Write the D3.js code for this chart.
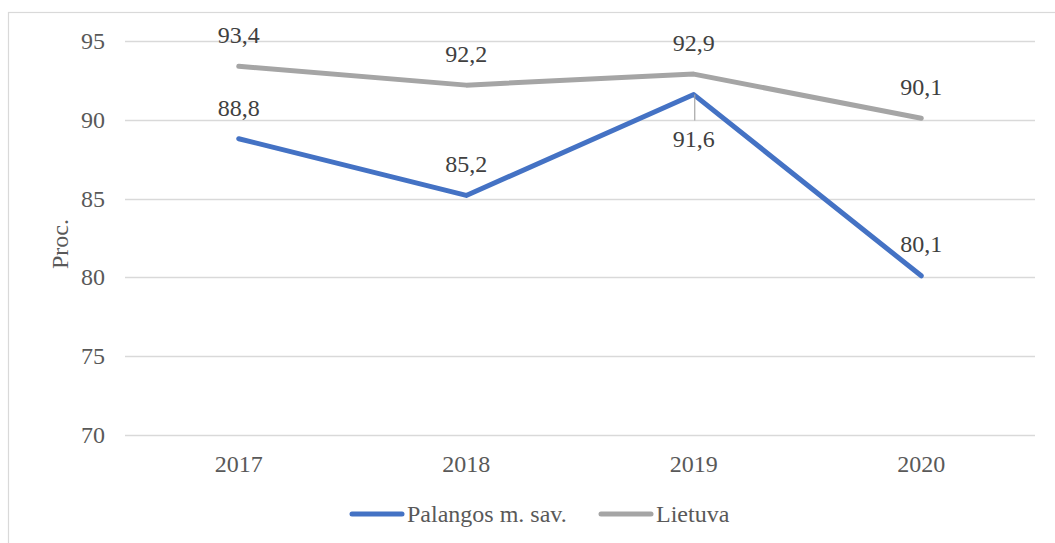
<!DOCTYPE html>
<html>
<head>
<meta charset="utf-8">
<script src="https://cdn.jsdelivr.net/npm/d3@7"></script>
<style>
  html, body { margin: 0; padding: 0; background: #fff; }
  svg { display: block; }
  svg text { font-family: "Liberation Serif", "DejaVu Serif", serif; }
</style>
</head>
<body>
<div id="chart"></div>
<script>
// ── 데이터 ────────────────────────────────────────────────
const years      = ["2017", "2018", "2019", "2020"];
const palanga    = [88.8, 85.2, 91.6, 80.1];
const lietuva    = [93.4, 92.2, 92.9, 90.1];
const yTicks     = [70, 75, 80, 85, 90, 95];
const seriesNames = ["Palangos m. sav.", "Lietuva"];

// ── 캔버스 ────────────────────────────────────────────────
const W = 1055, H = 543;
const m = { left: 125, right: 20, top: 41, bottom: 108 };
const FONT = "Liberation Serif, DejaVu Serif, serif";
const FS = 24;

const svg = d3.select("#chart").append("svg").attr("width", W).attr("height", H)
    .attr("font-family", FONT);

// chart border
svg.append("rect")
    .attr("x", 8.5).attr("y", 12.5).attr("width", 1060).attr("height", 540)
    .attr("fill", "none").attr("stroke", "#d9d9d9").attr("stroke-width", 1.2);

const x = d3.scaleBand().domain(years).range([m.left, W - m.right]);
const y = d3.scaleLinear().domain([70, 95]).range([H - m.bottom, m.top]);
const cx = d => x(d) + x.bandwidth() / 2;

// gridlines
svg.append("g").selectAll("line").data(yTicks).enter().append("line")
    .attr("x1", m.left).attr("x2", W - m.right)
    .attr("y1", d => Math.round(y(d)) + 0.5).attr("y2", d => Math.round(y(d)) + 0.5)
    .attr("stroke", "#d9d9d9").attr("stroke-width", 1.3);

// y tick labels
svg.append("g").selectAll("text").data(yTicks).enter().append("text")
    .attr("x", 105).attr("y", d => y(d)).attr("dy", "0.33em")
    .attr("text-anchor", "end").attr("font-size", FS).attr("fill", "#595959")
    .text(d => d);

// x tick labels
svg.append("g").selectAll("text").data(years).enter().append("text")
    .attr("x", d => cx(d)).attr("y", 472)
    .attr("text-anchor", "middle").attr("font-size", FS).attr("fill", "#595959")
    .text(d => d);

// y title
svg.append("text")
    .attr("transform", `translate(68,244) rotate(-90)`)
    .attr("text-anchor", "middle").attr("font-size", FS).attr("fill", "#595959")
    .text("Proc.");

// ── 선 ────────────────────────────────────────────────────
const series = [
    { name: seriesNames[0], values: palanga, color: "#4472c4" },
    { name: seriesNames[1], values: lietuva, color: "#a5a5a5" },
];
const line = d3.line().x((d, i) => cx(years[i])).y(d => y(d));

// gray first, blue on top
[series[1], series[0]].forEach(s => {
    svg.append("path").datum(s.values)
        .attr("d", line).attr("fill", "none")
        .attr("stroke", s.color).attr("stroke-width", 5)
        .attr("stroke-linecap", "round").attr("stroke-linejoin", "round");
});

// ── 데이터 라벨 ───────────────────────────────────────────
// 라벨 기준선 오프셋 (포인트 기준, 양수 = 아래)
const labelOffset = [
    [-23, -23, 52, -24],   // Palangos
    [-23, -23, -23, -23],  // Lietuva
];
const fmt = v => v.toFixed(1).replace(".", ",");

// leader line for 2019 Palangos label
svg.append("line")
    .attr("x1", cx(years[2]) + 1).attr("x2", cx(years[2]) + 1)
    .attr("y1", y(palanga[2])).attr("y2", y(palanga[2]) + 26)
    .attr("stroke", "#a5a5a5").attr("stroke-width", 1.2);

series.forEach((s, si) => {
    svg.append("g").selectAll("text").data(s.values).enter().append("text")
        .attr("x", (d, i) => cx(years[i]))
        .attr("y", (d, i) => y(d) + labelOffset[si][i])
        .attr("text-anchor", "middle").attr("font-size", FS).attr("fill", "#404040")
        .text(d => fmt(d));
});

// ── 범례 ──────────────────────────────────────────────────
const legendItems = [
    { x: 350, tx: 407 },
    { x: 599, tx: 656 },
];
const ly = 514;
series.forEach((s, i) => {
    const it = legendItems[i];
    svg.append("line")
        .attr("x1", it.x + 2).attr("x2", it.x + 52).attr("y1", ly).attr("y2", ly)
        .attr("stroke", s.color).attr("stroke-width", 5).attr("stroke-linecap", "round");
    svg.append("text")
        .attr("x", it.tx).attr("y", ly).attr("dy", "0.33em")
        .attr("font-size", FS).attr("fill", "#595959")
        .text(s.name);
});
</script>
</body>
</html>
